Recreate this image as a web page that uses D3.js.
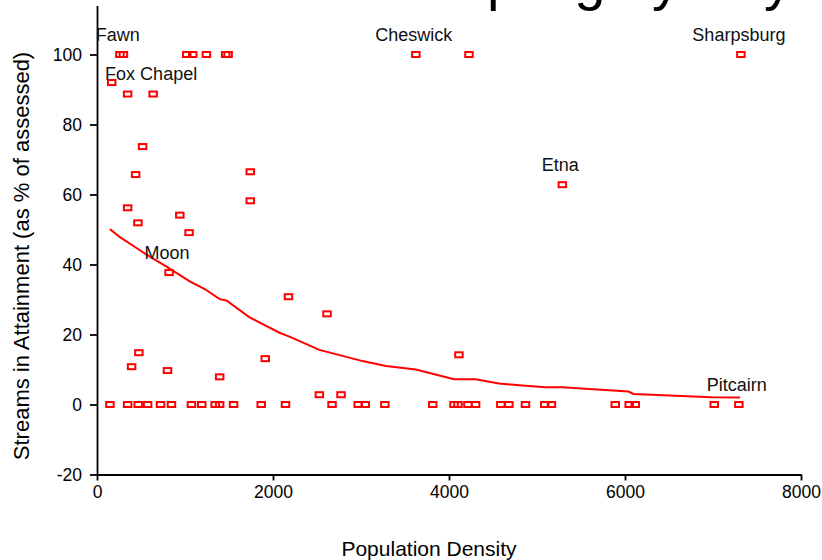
<!DOCTYPE html>
<html>
<head>
<meta charset="utf-8">
<script src="https://cdn.jsdelivr.net/npm/d3@7"></script>
<style>
  body { margin: 0; background: #fff; }
  svg { font-family: "Liberation Sans", Arial, sans-serif; display: block; }
</style>
</head>
<body>
<div id="vis1"></div>
<script>
// population density vs % of streams in attainment
const DENSITY = [
  260, 300, 1020, 1088, 1243, 1462, 1490, 3623, 4227, 7317,
  167, 348, 638, 518, 439, 1742, 1742, 348, 465, 941, 1046, 819, 5288,
  2176, 2614, 476, 393, 801, 1394, 1912, 4113, 2527, 2773,
  147, 348, 468, 575, 722, 846, 1073, 1190, 1343, 1394, 1552, 1866, 2142,
  2671, 2969, 3048, 3271, 3815, 4057, 4102, 4215, 4302, 4589, 4680, 4869,
  5088, 5164, 5889, 6048, 6116, 7014, 7294
];
const ATTAIN = [
  100, 100, 100, 100, 100, 100, 100, 100, 100, 100,
  92, 88.7, 88.7, 73.7, 65.7, 66.5, 58.2, 56.2, 51.9, 54.1, 49.1, 37.7, 62.8,
  30.8, 25.9, 14.8, 10.8, 9.7, 7.9, 13.1, 14.2, 2.8, 2.8,
  0, 0, 0, 0, 0, 0, 0, 0, 0, 0, 0, 0, 0,
  0, 0, 0, 0, 0, 0, 0, 0, 0, 0, 0, 0,
  0, 0, 0, 0, 0, 0, 0
];

// smoothed trend
const TREND_X = [147, 261, 431, 563, 790, 1054, 1224, 1394, 1470, 1734, 2074, 2187,
  2527, 3018, 3283, 3623, 4057, 4302, 4567, 4907, 5096, 5284, 6040, 6096, 6984, 7306];
const TREND_Y = [50.1, 47.8, 45.0, 42.8, 39.4, 35.2, 33.0, 30.1, 29.7, 24.9, 20.5, 19.4,
  15.6, 12.4, 11.0, 10.0, 7.2, 7.2, 6.0, 5.3, 4.9, 4.9, 3.7, 3.0, 2.1, 2.0];

// named municipalities (the point each name sits over)
const LABEL_NAMES = ['Fawn', 'Fox Chapel', 'Moon', 'Cheswick', 'Etna', 'Sharpsburg', 'Pitcairn'];
const LABEL_X = [260, 638, 819, 3623, 5288, 7317, 7294];
const LABEL_Y = [100, 88.7, 37.7, 100, 62.8, 100, 0];

const X_TICKS = [0, 2000, 4000, 6000, 8000];
const Y_TICKS = [-20, 0, 20, 40, 60, 80, 100];

const TITLE = 'Stream Sampling by City';
const X_TITLE = 'Population Density';
const Y_TITLE = 'Streams in Attainment (as % of assessed)';

const FRAME_WIDTH = 822;
const FRAME_HEIGHT = 560;
const RED = '#ff0000';

const FRAME1 = d3.select('#vis1')
  .append('svg')
    .attr('width', FRAME_WIDTH)
    .attr('height', FRAME_HEIGHT);

const X_SCALE = d3.scaleLinear()
  .domain([0, 8000])
  .range([97, 801]);

const Y_SCALE = d3.scaleLinear()
  .domain([-20, 114])
  .range([474.5, 5.5]);

// title, mostly cut off by the top edge
FRAME1.append('text')
  .attr('x', 792)
  .attr('y', -1)
  .attr('text-anchor', 'end')
  .attr('font-size', 56)
  .attr('fill', '#000')
  .text(TITLE);

// axes
const xAxis = FRAME1.append('g')
  .attr('transform', 'translate(0,' + Y_SCALE(-20) + ')')
  .call(d3.axisBottom(X_SCALE).tickValues(X_TICKS).tickFormat((d) => String(d))
    .tickSize(6).tickSizeOuter(0).tickPadding(5));

const yAxis = FRAME1.append('g')
  .attr('transform', 'translate(' + X_SCALE(0) + ',0)')
  .call(d3.axisLeft(Y_SCALE).tickValues(Y_TICKS).tickFormat((d) => String(d))
    .tickSize(7).tickSizeOuter(0).tickPadding(8));

[xAxis, yAxis].forEach((ax) => {
  ax.selectAll('path, line').attr('stroke', '#000').attr('stroke-width', 1.8);
  ax.selectAll('text').attr('font-size', 17.5).attr('fill', '#000')
    .attr('font-family', '"Liberation Sans", Arial, sans-serif');
});

// trend line
const line = d3.line()
  .x((d, i) => X_SCALE(TREND_X[i]))
  .y((d, i) => Y_SCALE(TREND_Y[i]));

FRAME1.append('path')
  .datum(TREND_X)
  .attr('d', line)
  .attr('fill', 'none')
  .attr('stroke', RED)
  .attr('stroke-width', 2);

// points
FRAME1.selectAll('.pt')
  .data(DENSITY)
  .enter()
  .append('rect')
    .attr('class', 'pt')
    .attr('x', (d) => X_SCALE(d) - 3.75)
    .attr('y', (d, i) => Y_SCALE(ATTAIN[i]) - 2.5)
    .attr('width', 7.5)
    .attr('height', 5)
    .attr('fill', 'none')
    .attr('stroke', RED)
    .attr('stroke-width', 2);

// labels
FRAME1.selectAll('.lbl')
  .data(LABEL_NAMES)
  .enter()
  .append('text')
    .attr('class', 'lbl')
    .attr('x', (d, i) => X_SCALE(LABEL_X[i]) - 2)
    .attr('y', (d, i) => Y_SCALE(LABEL_Y[i]) - 14)
    .attr('text-anchor', 'middle')
    .attr('font-size', 18)
    .attr('fill', '#111')
    .text((d) => d);

// axis titles
FRAME1.append('text')
  .attr('x', 429)
  .attr('y', 556)
  .attr('text-anchor', 'middle')
  .attr('font-size', 21)
  .attr('fill', '#000')
  .text(X_TITLE);

FRAME1.append('text')
  .attr('transform', 'translate(29,256) rotate(-90)')
  .attr('text-anchor', 'middle')
  .attr('font-size', 22)
  .attr('fill', '#000')
  .text(Y_TITLE);
</script>
</body>
</html>
